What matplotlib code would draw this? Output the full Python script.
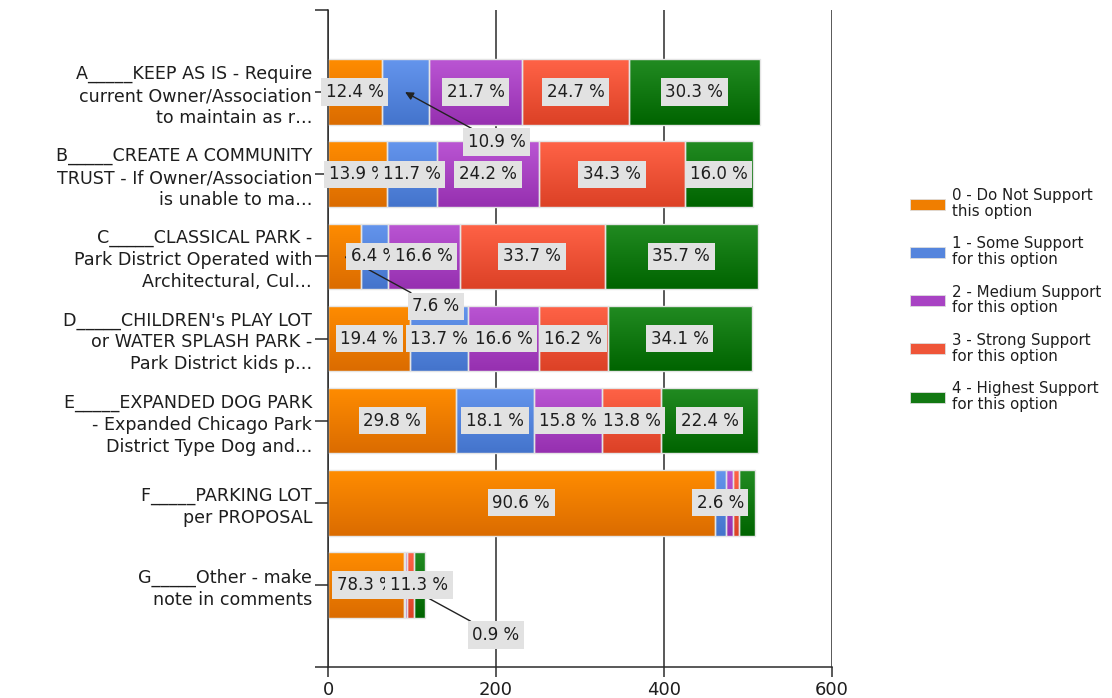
import matplotlib
matplotlib.use("Agg")
import matplotlib.pyplot as plt
import numpy as np
from matplotlib.patches import Patch
from matplotlib.colors import LinearSegmentedColormap

# ---------------- data ----------------
categories = [
    "A_____KEEP AS IS - Require\ncurrent Owner/Association\nto maintain as r\u2026",
    "B_____CREATE A COMMUNITY\nTRUST - If Owner/Association\nis unable to ma\u2026",
    "C_____CLASSICAL PARK -\nPark District Operated with\nArchitectural, Cul\u2026",
    "D_____CHILDREN's PLAY LOT\nor WATER SPLASH PARK -\nPark District kids p\u2026",
    "E_____EXPANDED DOG PARK\n- Expanded Chicago Park\nDistrict Type Dog and\u2026",
    "F_____PARKING LOT\nper PROPOSAL",
    "G_____Other - make\nnote in comments",
]
series_names = [
    "0 - Do Not Support\nthis option",
    "1 - Some Support\nfor this option",
    "2 - Medium Support\nfor this option",
    "3 - Strong Support\nfor this option",
    "4 - Highest Support\nfor this option",
]
totals = [514, 505, 512, 505, 512, 508, 115]
pct_do_not = [12.4, 13.9, 7.6, 19.4, 29.8, 90.6, 78.3]
pct_some = [10.9, 11.7, 6.4, 13.7, 18.1, 2.6, 0.9]
pct_medium = [21.7, 24.2, 16.6, 16.6, 15.8, 1.8, 2.6]
pct_strong = [24.7, 34.3, 33.7, 16.2, 13.8, 1.3, 6.9]
pct_highest = [30.3, 16.0, 35.7, 34.1, 22.4, 3.7, 11.3]
x_ticks = [0, 200, 400, 600]

# labels hidden by the chart's label collision logic, and labels moved to callouts
hidden_labels = {(5, 2), (5, 3), (5, 4), (6, 2), (6, 3)}
callout_labels = {(0, 1), (2, 0), (6, 1)}

# ---------------- style ----------------
grad_top = ["#ff8c00", "#6495ed", "#ba55d3", "#ff6347", "#228b22"]
grad_bot = ["#db6c00", "#4474cc", "#9630b0", "#dc4126", "#006400"]
legend_cols = ["#f07e00", "#5585dd", "#a843c3", "#ef5538", "#127812"]
font = "DejaVu Sans"
line_col = "#2b2b2b"
text_col = "#1e1e1e"

W, H = 1112, 698
fig = plt.figure(figsize=(W / 100, H / 100), dpi=100)
ax = fig.add_axes([328 / W, 31 / H, (832 - 328) / W, (667 - 10) / H])

pcts = np.array([pct_do_not, pct_some, pct_medium, pct_strong, pct_highest])
counts = pcts * np.array(totals)[None, :] / 100.0
ypos = np.arange(len(categories))
bar_h = 0.8

left = np.zeros(len(categories))
for j in range(len(series_names)):
    bars = ax.barh(ypos, counts[j], left=left, height=bar_h, color=grad_top[j],
                   edgecolor="none", zorder=2)
    cmap = LinearSegmentedColormap.from_list("g%d" % j, [grad_top[j], grad_bot[j]])
    grad = np.linspace(0, 1, 64).reshape(-1, 1)
    for rect in bars:
        x0, y0 = rect.get_x(), rect.get_y()
        w, h = rect.get_width(), rect.get_height()
        if w <= 0:
            continue
        im = ax.imshow(grad, cmap=cmap, aspect="auto", origin="upper",
                       extent=(x0, x0 + w, y0 + h, y0), zorder=2.1,
                       interpolation="bilinear")
        im.set_clip_path(rect)
    ax.barh(ypos, counts[j], left=left, height=bar_h, fill=False,
            edgecolor="#e4e4e4", linewidth=1.0, zorder=2.5)
    # labels
    for i in range(len(categories)):
        if (i, j) in hidden_labels:
            continue
        cx = left[i] + counts[j][i] / 2.0
        txt = "%.1f %%" % pcts[j][i]
        bbox = dict(boxstyle="square,pad=0.28", facecolor="#e2e2e2", edgecolor="none")
        if (i, j) in callout_labels:
            ax.annotate(txt, xy=(cx, ypos[i]), xytext=(66, -36), textcoords="offset points",
                        ha="center", va="center", fontsize=12, family=font, color=text_col,
                        bbox=bbox, zorder=3.5,
                        arrowprops=dict(arrowstyle="-|>", color="#222222", lw=1.0,
                                        mutation_scale=12, shrinkA=0, shrinkB=0))
        else:
            ax.text(cx, ypos[i], txt, ha="center", va="center", fontsize=12,
                    family=font, color=text_col, bbox=bbox, zorder=4)
    left = left + counts[j]

ax.set_xlim(0, 600)
ax.set_ylim(len(categories), -1)
ax.set_xticks(x_ticks)
ax.set_xticklabels([str(t) for t in x_ticks], fontsize=13, family=font, color=text_col)
ax.set_yticks(ypos)
ax.set_yticklabels(categories, fontsize=12.6, family=font, color=text_col,
                   multialignment="right", linespacing=1.28)
ax.set_yticks([-1, len(categories)], minor=True)

ax.xaxis.grid(True, color=line_col, linewidth=1.1)
ax.set_axisbelow(True)
for s in ("top", "right"):
    ax.spines[s].set_visible(False)
for s in ("left", "bottom"):
    ax.spines[s].set_color(line_col)
    ax.spines[s].set_linewidth(1.1)
ax.tick_params(axis="y", which="both", length=9.4, width=1.1, color=line_col, pad=2)
ax.tick_params(axis="x", length=7, width=1.1, color=line_col, pad=3)

handles = [Patch(facecolor=c, edgecolor="#dddddd", linewidth=0.6) for c in legend_cols]
leg = fig.legend(handles, series_names, loc="center left",
                 bbox_to_anchor=(910 / W, 1 - 300 / H), frameon=False,
                 prop={"family": font, "size": 10.8}, handlelength=2.3,
                 handleheight=0.75, handletextpad=0.5, labelspacing=1.15,
                 borderpad=0, borderaxespad=0)
for t in leg.get_texts():
    t.set_linespacing(1.08)
    t.set_color(text_col)

fig.savefig("out.png", dpi=100)
